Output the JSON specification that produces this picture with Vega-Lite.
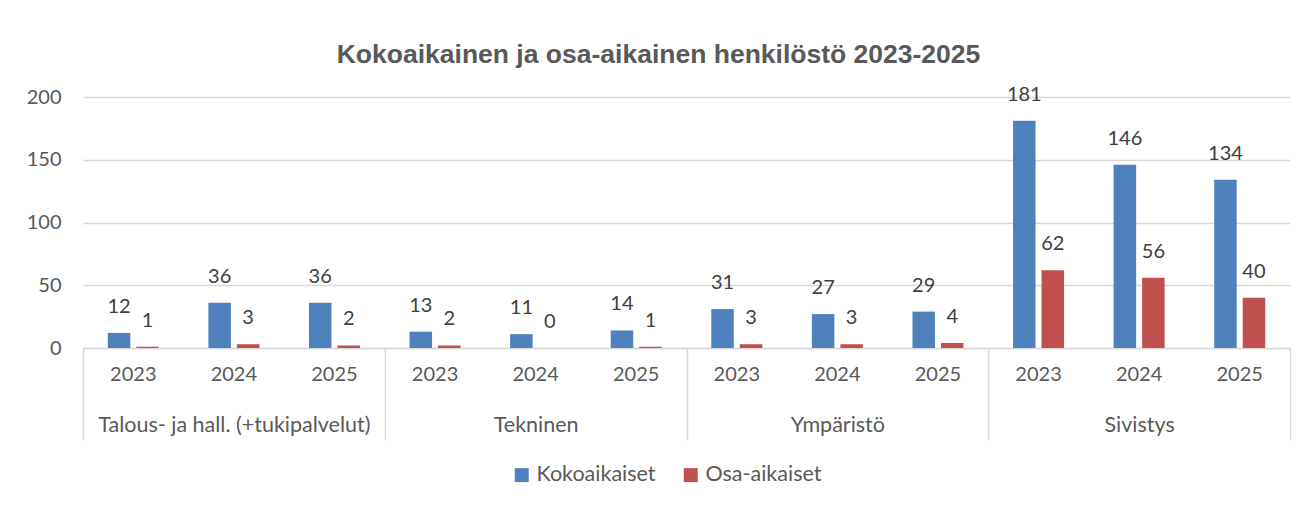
{
  "$schema": "https://vega.github.io/schema/vega-lite/v6.json",
  "width": 1207,
  "height": 251,
  "autosize": {"type": "none"},
  "padding": {"left": 83, "top": 97, "right": 18, "bottom": 159},
  "background": "white",
  "title": {
    "text": "Kokoaikainen ja osa-aikainen henkilöstö 2023-2025",
    "font": "Liberation Sans",
    "fontSize": 26.5,
    "fontWeight": "bold",
    "color": "#595959",
    "anchor": "middle",
    "frame": "group",
    "dx": -28,
    "offset": 16
  },
  "config": {
    "view": {"stroke": null},
    "text": {"font": "Lato"}
  },
  "data": {
    "values": [
      {"ryhma": "Talous- ja hall. (+tukipalvelut)", "kohta": "Talous- ja hall. (+tukipalvelut) 2023", "sarja": "Kokoaikaiset", "arvo": 12},
      {"ryhma": "Talous- ja hall. (+tukipalvelut)", "kohta": "Talous- ja hall. (+tukipalvelut) 2023", "sarja": "Osa-aikaiset", "arvo": 1},
      {"ryhma": "Talous- ja hall. (+tukipalvelut)", "kohta": "Talous- ja hall. (+tukipalvelut) 2024", "sarja": "Kokoaikaiset", "arvo": 36},
      {"ryhma": "Talous- ja hall. (+tukipalvelut)", "kohta": "Talous- ja hall. (+tukipalvelut) 2024", "sarja": "Osa-aikaiset", "arvo": 3},
      {"ryhma": "Talous- ja hall. (+tukipalvelut)", "kohta": "Talous- ja hall. (+tukipalvelut) 2025", "sarja": "Kokoaikaiset", "arvo": 36},
      {"ryhma": "Talous- ja hall. (+tukipalvelut)", "kohta": "Talous- ja hall. (+tukipalvelut) 2025", "sarja": "Osa-aikaiset", "arvo": 2},
      {"ryhma": "Tekninen", "kohta": "Tekninen 2023", "sarja": "Kokoaikaiset", "arvo": 13},
      {"ryhma": "Tekninen", "kohta": "Tekninen 2023", "sarja": "Osa-aikaiset", "arvo": 2},
      {"ryhma": "Tekninen", "kohta": "Tekninen 2024", "sarja": "Kokoaikaiset", "arvo": 11},
      {"ryhma": "Tekninen", "kohta": "Tekninen 2024", "sarja": "Osa-aikaiset", "arvo": 0},
      {"ryhma": "Tekninen", "kohta": "Tekninen 2025", "sarja": "Kokoaikaiset", "arvo": 14},
      {"ryhma": "Tekninen", "kohta": "Tekninen 2025", "sarja": "Osa-aikaiset", "arvo": 1},
      {"ryhma": "Ympäristö", "kohta": "Ympäristö 2023", "sarja": "Kokoaikaiset", "arvo": 31},
      {"ryhma": "Ympäristö", "kohta": "Ympäristö 2023", "sarja": "Osa-aikaiset", "arvo": 3},
      {"ryhma": "Ympäristö", "kohta": "Ympäristö 2024", "sarja": "Kokoaikaiset", "arvo": 27},
      {"ryhma": "Ympäristö", "kohta": "Ympäristö 2024", "sarja": "Osa-aikaiset", "arvo": 3},
      {"ryhma": "Ympäristö", "kohta": "Ympäristö 2025", "sarja": "Kokoaikaiset", "arvo": 29},
      {"ryhma": "Ympäristö", "kohta": "Ympäristö 2025", "sarja": "Osa-aikaiset", "arvo": 4},
      {"ryhma": "Sivistys", "kohta": "Sivistys 2023", "sarja": "Kokoaikaiset", "arvo": 181},
      {"ryhma": "Sivistys", "kohta": "Sivistys 2023", "sarja": "Osa-aikaiset", "arvo": 62},
      {"ryhma": "Sivistys", "kohta": "Sivistys 2024", "sarja": "Kokoaikaiset", "arvo": 146},
      {"ryhma": "Sivistys", "kohta": "Sivistys 2024", "sarja": "Osa-aikaiset", "arvo": 56},
      {"ryhma": "Sivistys", "kohta": "Sivistys 2025", "sarja": "Kokoaikaiset", "arvo": 134},
      {"ryhma": "Sivistys", "kohta": "Sivistys 2025", "sarja": "Osa-aikaiset", "arvo": 40}
    ]
  },
  "layer": [
    {
      "encoding": {
        "x": {
          "field": "kohta",
          "type": "nominal",
          "sort": null,
          "scale": {"paddingInner": 0, "paddingOuter": 0},
          "axis": {
            "title": null,
            "labelExpr": "slice(datum.value, -4)",
            "labelAngle": 0,
            "ticks": false,
            "domain": true,
            "domainColor": "#d9d9d9",
            "domainWidth": 1.5,
            "labelPadding": 16,
            "labelFont": "Lato",
            "labelFontSize": 20,
            "labelColor": "#595959",
            "grid": false
          }
        },
        "xOffset": {
          "field": "sarja",
          "type": "nominal",
          "scale": {"paddingInner": 0.21, "paddingOuter": 0.87}
        },
        "y": {
          "field": "arvo",
          "type": "quantitative",
          "scale": {"domain": [0, 200], "nice": false},
          "axis": {
            "title": null,
            "values": [0, 50, 100, 150, 200],
            "domain": false,
            "ticks": false,
            "grid": true,
            "gridColor": "#d9d9d9",
            "gridWidth": 1.5,
            "labelPadding": 22,
            "labelFont": "Lato",
            "labelFontSize": 20,
            "labelColor": "#595959"
          }
        }
      },
      "layer": [
        {
          "mark": {"type": "bar"},
          "encoding": {
            "color": {
              "field": "sarja",
              "type": "nominal",
              "scale": {"domain": ["Kokoaikaiset", "Osa-aikaiset"], "range": ["#4F81BD", "#C0504D"]},
              "legend": {
                "orient": "none",
                "legendX": 428,
                "legendY": 367,
                "direction": "horizontal",
                "title": null,
                "symbolType": "square",
                "symbolSize": 196,
                "symbolStrokeWidth": 0,
                "labelFont": "Lato",
                "labelFontSize": 21.5,
                "labelColor": "#595959",
                "columnPadding": 24
              }
            }
          }
        },
        {
          "mark": {"type": "text", "dy": -26, "fontSize": 20, "color": "#404040", "font": "Lato"},
          "encoding": {"text": {"field": "arvo", "type": "quantitative"}}
        }
      ]
    },
    {
      "mark": {"type": "text", "text": ""},
      "encoding": {
        "x": {
          "field": "ryhma",
          "type": "nominal",
          "sort": null,
          "scale": {"paddingInner": 0, "paddingOuter": 0},
          "axis": {
            "orient": "bottom",
            "title": null,
            "tickBand": "extent",
            "ticks": true,
            "tickSize": 92,
            "tickColor": "#d9d9d9",
            "tickWidth": 1.5,
            "domain": false,
            "labelAngle": 0,
            "labelPadding": -26,
            "labelLimit": 0,
            "labelFont": "Lato",
            "labelFontSize": 21.5,
            "labelColor": "#595959",
            "grid": false
          }
        }
      }
    }
  ],
  "resolve": {"scale": {"x": "independent"}, "axis": {"x": "independent"}}
}
